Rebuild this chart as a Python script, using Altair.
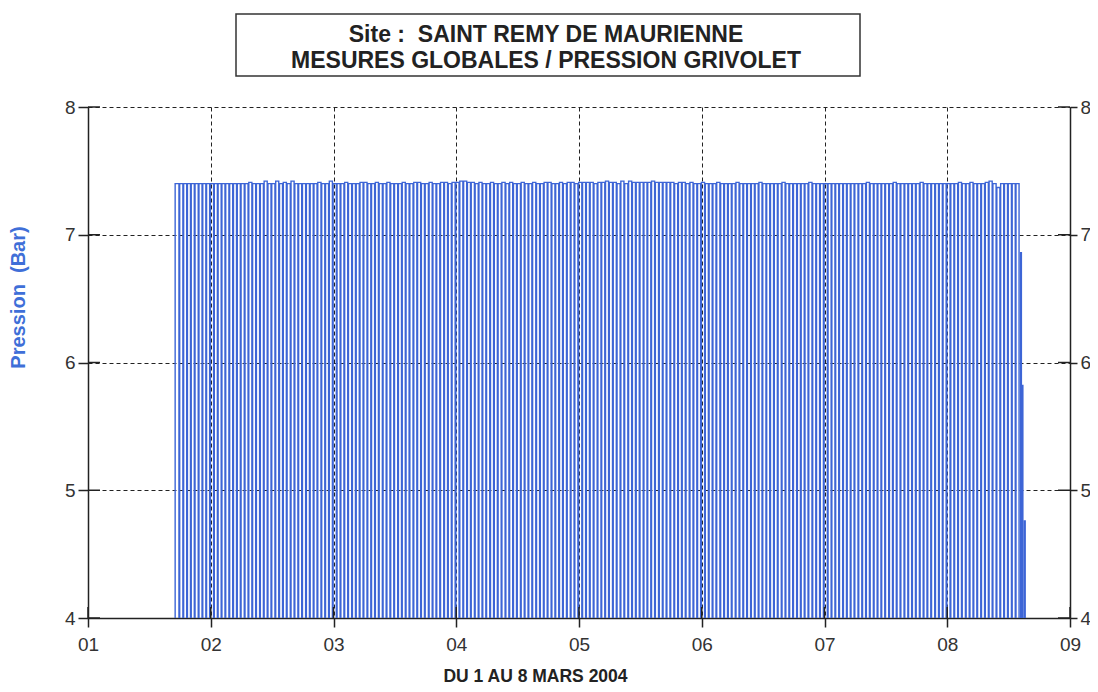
import json
import altair as alt
import pandas as pd

# ---------------- text ----------------
TITLE_LINES = ["Site :\u00a0 SAINT REMY DE MAURIENNE", "MESURES GLOBALES / PRESSION GRIVOLET"]
X_TITLE = "DU 1 AU 8 MARS 2004"
Y_TITLE = "Pression\u00a0 (Bar)"

# ---------------- axes ----------------
X_TICKS = [1, 2, 3, 4, 5, 6, 7, 8, 9]
X_TICK_LABELS = ["01", "02", "03", "04", "05", "06", "07", "08", "09"]
Y_TICKS = [4, 5, 6, 7, 8]
Y_DOMAIN = [4, 8]
X_DOMAIN = [1, 9]

# ---------------- data ----------------
# day of month of each short pressure drop (first value = start of record)
CYCLE_DAY = [
    1.710, 1.741, 1.773, 1.804, 1.835, 1.866, 1.898, 1.929, 1.960, 1.991,
    2.023, 2.054, 2.085, 2.116, 2.148, 2.179, 2.210, 2.241, 2.273, 2.304, 2.335, 2.366, 2.398, 2.429, 2.460, 2.491,
    2.523, 2.554, 2.585, 2.616, 2.648, 2.679, 2.710, 2.741, 2.773, 2.804, 2.835, 2.866, 2.898, 2.929, 2.960, 2.991,
    3.023, 3.054, 3.085, 3.116, 3.148, 3.179, 3.210, 3.241, 3.273, 3.304, 3.335, 3.366, 3.398, 3.429, 3.460, 3.491,
    3.523, 3.554, 3.585, 3.616, 3.648, 3.679, 3.710, 3.741, 3.773, 3.804, 3.835, 3.866, 3.898, 3.929, 3.960, 3.991,
    4.023, 4.054, 4.085, 4.116, 4.148, 4.179, 4.210, 4.241, 4.273, 4.304, 4.335, 4.366, 4.398, 4.429, 4.460, 4.491,
    4.523, 4.554, 4.585, 4.616, 4.648, 4.679, 4.710, 4.741, 4.773, 4.804, 4.835, 4.866, 4.898, 4.929, 4.960, 4.991,
    5.023, 5.054, 5.085, 5.116, 5.148, 5.179, 5.210, 5.241, 5.273, 5.304, 5.335, 5.366, 5.398, 5.429, 5.460, 5.491,
    5.523, 5.554, 5.585, 5.616, 5.648, 5.679, 5.710, 5.741, 5.773, 5.804, 5.835, 5.866, 5.898, 5.929, 5.960, 5.991,
    6.023, 6.054, 6.085, 6.116, 6.148, 6.179, 6.210, 6.241, 6.273, 6.304, 6.335, 6.366, 6.398, 6.429, 6.460, 6.491,
    6.523, 6.554, 6.585, 6.616, 6.648, 6.679, 6.710, 6.741, 6.773, 6.804, 6.835, 6.866, 6.898, 6.929, 6.960, 6.991,
    7.023, 7.054, 7.085, 7.116, 7.148, 7.179, 7.210, 7.241, 7.273, 7.304, 7.335, 7.366, 7.398, 7.429, 7.460, 7.491,
    7.523, 7.554, 7.585, 7.616, 7.648, 7.679, 7.710, 7.741, 7.773, 7.804, 7.835, 7.866, 7.898, 7.929, 7.960, 7.991,
    8.023, 8.054, 8.085, 8.116, 8.148, 8.179, 8.210, 8.241, 8.273, 8.304, 8.335, 8.366, 8.398, 8.429, 8.460, 8.491,
    8.523, 8.554, 8.585,
]

# pressure (bar) held between two consecutive drops
PLATEAU_BAR = [
    7.40, 7.40, 7.40, 7.40, 7.40, 7.40, 7.40, 7.40, 7.40, 7.40,
    7.40, 7.40, 7.40, 7.40, 7.40, 7.40, 7.40, 7.40, 7.40, 7.41, 7.40, 7.40, 7.40, 7.42, 7.40, 7.40,
    7.42, 7.40, 7.41, 7.40, 7.42, 7.40, 7.40, 7.40, 7.40, 7.40, 7.40, 7.41, 7.40, 7.40, 7.42, 7.40,
    7.40, 7.40, 7.41, 7.40, 7.40, 7.40, 7.41, 7.41, 7.40, 7.40, 7.41, 7.40, 7.40, 7.41, 7.40, 7.40,
    7.40, 7.41, 7.40, 7.40, 7.41, 7.41, 7.40, 7.40, 7.41, 7.40, 7.40, 7.41, 7.41, 7.40, 7.41, 7.41,
    7.42, 7.42, 7.41, 7.41, 7.40, 7.41, 7.40, 7.40, 7.41, 7.40, 7.40, 7.41, 7.40, 7.41, 7.40, 7.40,
    7.41, 7.40, 7.40, 7.41, 7.40, 7.40, 7.41, 7.41, 7.40, 7.40, 7.41, 7.40, 7.41, 7.41, 7.40, 7.41,
    7.41, 7.41, 7.41, 7.40, 7.41, 7.41, 7.42, 7.41, 7.41, 7.40, 7.42, 7.40, 7.42, 7.41, 7.41, 7.41,
    7.41, 7.41, 7.42, 7.41, 7.41, 7.41, 7.41, 7.41, 7.40, 7.41, 7.41, 7.40, 7.41, 7.40, 7.40, 7.41,
    7.40, 7.40, 7.40, 7.41, 7.40, 7.40, 7.40, 7.40, 7.41, 7.40, 7.40, 7.40, 7.40, 7.40, 7.41, 7.40,
    7.40, 7.40, 7.40, 7.40, 7.41, 7.40, 7.40, 7.40, 7.40, 7.40, 7.40, 7.41, 7.40, 7.40, 7.40, 7.40,
    7.40, 7.40, 7.40, 7.40, 7.40, 7.40, 7.40, 7.40, 7.40, 7.40, 7.41, 7.40, 7.40, 7.40, 7.40, 7.40,
    7.40, 7.41, 7.40, 7.40, 7.40, 7.40, 7.40, 7.40, 7.41, 7.40, 7.40, 7.40, 7.40, 7.40, 7.40, 7.40,
    7.40, 7.40, 7.41, 7.40, 7.40, 7.41, 7.40, 7.40, 7.40, 7.41, 7.42, 7.40, 7.37, 7.40, 7.40, 7.40,
    7.40, 7.40,
]

DROP_BAR = 0.0        # level reached during each drop (below the axis)
DROP_DAYS = 0.006     # duration of each drop

# final decay after the last drop
TAIL_DAY = [8.598, 8.610, 8.629]
TAIL_BAR = [6.86, 5.82, 4.76]

# ---------------- build trace ----------------
rows = []


def add(t, p):
    rows.append({"day": t, "bar": p, "seq": len(rows)})


add(CYCLE_DAY[0], DROP_BAR)
for j, level in enumerate(PLATEAU_BAR):
    start = CYCLE_DAY[j] + (DROP_DAYS if j > 0 else 0.0)
    if j > 0:
        add(start, DROP_BAR)
    add(start, level)
    add(CYCLE_DAY[j + 1], level)
    add(CYCLE_DAY[j + 1], DROP_BAR)
for t, p in zip(TAIL_DAY, TAIL_BAR):
    add(t, DROP_BAR)
    add(t, p)
    add(t + DROP_DAYS, p)
    add(t + DROP_DAYS, DROP_BAR)

trace = pd.DataFrame(rows)

# ---------------- style ----------------
FONT = "Liberation Sans"
LINE_COLOR = "#3d65d6"
AXIS_COLOR = "#222222"
GRID_COLOR = "#222222"
W, H = 982, 511

xscale = alt.Scale(domain=X_DOMAIN, nice=False, zero=False)
yscale = alt.Scale(domain=Y_DOMAIN, nice=False, zero=False)

label_expr = json.dumps(X_TICK_LABELS) + "[datum.value - 1]"

x_axis = alt.Axis(
    values=X_TICKS, labelExpr=label_expr, grid=True, gridDash=[4, 3], gridColor=GRID_COLOR,
    gridWidth=1, gridOpacity=1, domainColor=AXIS_COLOR, domainWidth=1.5, tickColor=AXIS_COLOR,
    tickSize=9, tickWidth=1.5, labelFont=FONT, labelFontSize=19, labelColor="#333333",
    labelPadding=8, labelFlush=False, title=X_TITLE, titleFont=FONT, titleFontSize=17.5,
    titleFontWeight="bold", titleColor="#222222", titleX=447, titleY=58, titleBaseline="middle",
    titleAnchor="middle",
)
y_axis = alt.Axis(
    values=Y_TICKS, grid=True, gridDash=[4, 3], gridColor=GRID_COLOR, gridWidth=1, gridOpacity=1,
    domainColor=AXIS_COLOR, domainWidth=1.5, tickColor=AXIS_COLOR, tickSize=10, tickWidth=1.5,
    labelFont=FONT, labelFontSize=19, labelColor="#333333", labelPadding=3, labelFlush=False,
    title=Y_TITLE, titleFont=FONT, titleFontSize=20, titleFontWeight="bold", titleColor="#3f6fd8",
    titleX=-60, titleY=190, titleAngle=270, titleBaseline="bottom", titleAlign="center",
)
y_axis_right = alt.Axis(
    values=Y_TICKS, orient="right", grid=False, domainColor=AXIS_COLOR, domainWidth=1.5,
    tickColor=AXIS_COLOR, tickSize=7, tickWidth=1.5, labelFont=FONT, labelFontSize=19,
    labelColor="#333333", labelPadding=3, labelFlush=False, title=None,
)

line = alt.Chart(trace).mark_line(clip=True, color=LINE_COLOR, strokeWidth=1.4).encode(
    x=alt.X("day:Q", scale=xscale, axis=x_axis),
    y=alt.Y("bar:Q", scale=yscale, axis=y_axis),
    order="seq:Q",
)

xt = pd.DataFrame({"v": X_TICKS})
yt = pd.DataFrame({"v": Y_TICKS})

inner_x_ticks = alt.Chart(xt).mark_rule(color=AXIS_COLOR, strokeWidth=1.5).encode(
    x=alt.X("v:Q", scale=xscale, axis=None),
    y=alt.value(H), y2=alt.value(H - 11),
)
inner_y_left = alt.Chart(yt).mark_rule(color=AXIS_COLOR, strokeWidth=1.5).encode(
    y=alt.Y("v:Q", scale=yscale, axis=None),
    x=alt.value(0), x2=alt.value(12),
)
inner_y_right = alt.Chart(yt).mark_rule(color=AXIS_COLOR, strokeWidth=1.5).encode(
    y=alt.Y("v:Q", scale=yscale, axis=y_axis_right),
    x=alt.value(W - 12), x2=alt.value(W),
)

title_df = pd.DataFrame({"line": TITLE_LINES})
title_box = alt.Chart(title_df.head(1)).mark_rect(
    fill="white", stroke="#333333", strokeWidth=1.5
).encode(x=alt.value(148), x2=alt.value(772), y=alt.value(-93), y2=alt.value(-31))

title_1 = alt.Chart(title_df.head(1)).mark_text(
    font=FONT, fontSize=23, fontWeight="bold", color="#222222", baseline="middle", align="center"
).encode(x=alt.value(458), y=alt.value(-72), text=alt.value(TITLE_LINES[0]))
title_2 = alt.Chart(title_df.head(1)).mark_text(
    font=FONT, fontSize=23, fontWeight="bold", color="#222222", baseline="middle", align="center"
).encode(x=alt.value(458), y=alt.value(-46), text=alt.value(TITLE_LINES[1]))

chart = (
    alt.layer(line, inner_x_ticks, inner_y_left, inner_y_right, title_box, title_1, title_2)
    .resolve_axis(x="independent", y="independent")
    .properties(
        width=W, height=H,
        autosize=alt.AutoSizeParams(type="none"),
        padding={"left": 80, "top": 99, "right": 20, "bottom": 66},
        background="white",
    )
    .configure_view(stroke=None)
)

chart.save("out.html", embed_options={"renderer": "svg", "actions": False})
